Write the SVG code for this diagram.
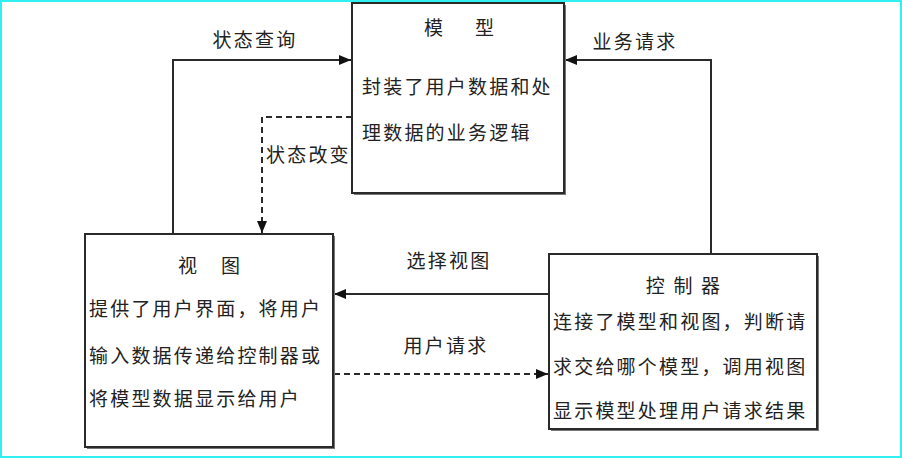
<svg xmlns="http://www.w3.org/2000/svg" width="902" height="458" viewBox="0 0 902 458">
<style>
text{font-family:"Noto Sans CJK SC","Noto Sans",sans-serif;font-size:19px;fill:#222;letter-spacing:2.2px}
.box{fill:#fff;stroke:#2a2a2a;stroke-width:2}
.sh{fill:#777}
.ln{fill:none;stroke:#2a2a2a;stroke-width:2}
.dash{stroke-dasharray:6 4}
.c{text-anchor:middle}
</style>
<defs>
<marker id="arr" viewBox="0 0 12 10" refX="12" refY="5" markerWidth="12" markerHeight="10" markerUnits="userSpaceOnUse" orient="auto">
<path d="M0,0 L12,5 L0,10 Z" fill="#111"/>
</marker>
</defs>
<rect x="1" y="1" width="900" height="456" fill="#fff" stroke="#33f0f0" stroke-width="2"/>
<g id="connectors">
<polyline class="ln" points="173,234 173,60 351,60" marker-end="url(#arr)"/>
<polyline class="ln dash" points="352,117 262,117 262,233" marker-end="url(#arr)"/>
<polyline class="ln" points="711,254 711,60 565,60" marker-end="url(#arr)"/>
<line class="ln" x1="549" y1="294" x2="334" y2="294" marker-end="url(#arr)"/>
<line class="ln dash" x1="334" y1="374" x2="548" y2="374" marker-end="url(#arr)"/>
<text class="c" x="255" y="47">状态查询</text>
<text x="266" y="162">状态改变</text>
<text class="c" x="635" y="49">业务请求</text>
<text class="c" x="449" y="268">选择视图</text>
<text class="c" x="446" y="353">用户请求</text>
</g>
<g id="model">
<rect class="sh" x="354" y="5" width="212" height="190"/>
<rect class="box" x="352" y="3" width="212" height="190"/>
<text x="424" y="35">模</text>
<text x="475" y="35">型</text>
<text x="362" y="94">封装了用户数据和处</text>
<text x="362" y="140">理数据的业务逻辑</text>
</g>
<g id="view">
<rect class="sh" x="87" y="236" width="248" height="213"/>
<rect class="box" x="85" y="234" width="248" height="213"/>
<text x="178" y="273">视</text>
<text x="221" y="273">图</text>
<text x="89" y="316">提供了用户界面，将用户</text>
<text x="89" y="363">输入数据传递给控制器或</text>
<text x="89" y="406">将模型数据显示给用户</text>
</g>
<g id="controller">
<rect class="sh" x="551" y="256" width="268" height="175"/>
<rect class="box" x="549" y="254" width="268" height="175"/>
<text class="c" x="684" y="293">控 制 器</text>
<text x="553" y="329">连接了模型和视图，判断请</text>
<text x="553" y="374">求交给哪个模型，调用视图</text>
<text x="553" y="418">显示模型处理用户请求结果</text>
</g>
</svg>
